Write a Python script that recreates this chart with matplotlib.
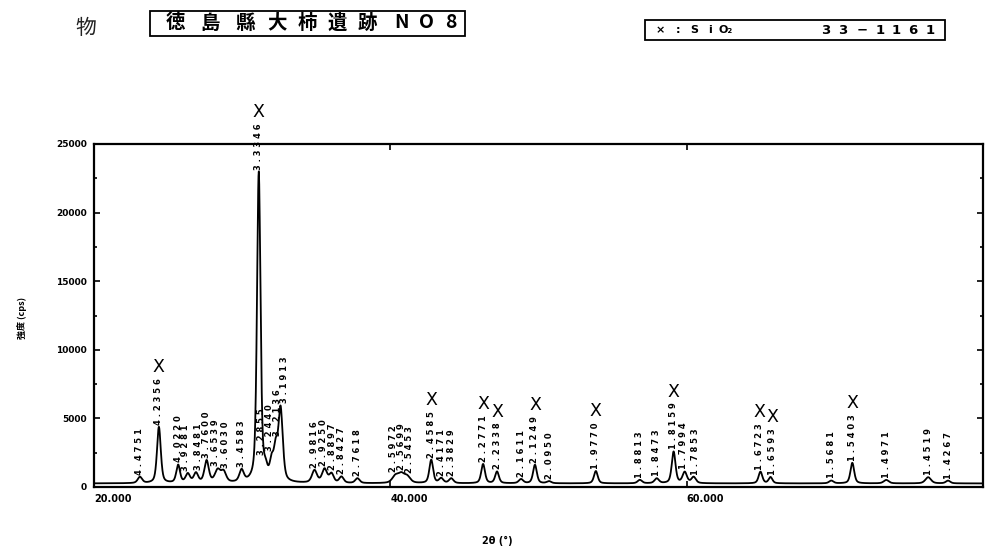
import numpy as np
import matplotlib
matplotlib.use("Agg")
import matplotlib.pyplot as plt
from matplotlib.patches import Rectangle
from matplotlib.ticker import MultipleLocator

plt.rcParams['font.family'] = ['DejaVu Sans', 'Noto Sans CJK JP']

# ---- data ----
peak_pos = [23.10, 24.38, 25.68, 26.33, 26.88, 27.60, 28.35, 28.75, 29.96, 31.12,
            31.58, 31.99, 32.26, 32.59, 34.88, 35.56, 36.03, 36.70, 37.78,
            40.34, 40.74, 41.14, 42.76, 43.43, 44.11, 46.26, 47.20, 48.82,
            49.76, 50.71, 53.87, 56.84, 57.98, 59.12, 59.87, 60.47,
            64.98, 65.66, 69.76, 71.18, 73.47, 76.30, 77.64]
peak_h = [450, 4100, 1300, 650, 700, 1600, 900, 750, 850, 22600,
          700, 1300, 2100, 5300, 900, 1000, 650, 450, 350,
          500, 600, 450, 1700, 350, 350, 1400, 850, 300,
          1350, 150, 900, 250, 350, 2300, 800, 450,
          850, 450, 200, 1500, 250, 450, 200]
peak_w = [0.35, 0.30, 0.30, 0.35, 0.35, 0.35, 0.45, 0.40, 0.35, 0.28,
          0.30, 0.30, 0.30, 0.35, 0.40, 0.40, 0.35, 0.35, 0.35,
          0.50, 0.50, 0.50, 0.30, 0.35, 0.35, 0.30, 0.30, 0.35,
          0.30, 0.35, 0.30, 0.35, 0.35, 0.30, 0.35, 0.35,
          0.30, 0.30, 0.35, 0.30, 0.40, 0.45, 0.35]
peak_labels = ["4.4751", "4.2356", "4.0220", "3.9281", "3.8481", "3.7600", "3.6539", "3.6030",
               "3.4583", "3.3346", "3.2855", "3.2440", "3.2136", "3.1913", "2.9816", "2.9250",
               "2.8897", "2.8427", "2.7618", "2.5972", "2.5699", "2.5453", "2.4585", "2.4171",
               "2.3829", "2.2771", "2.2338", "2.1611", "2.1249", "2.0950", "1.9770", "1.8813",
               "1.8473", "1.8159", "1.7994", "1.7853", "1.6723", "1.6593", "1.5681", "1.5403",
               "1.4971", "1.4519", "1.4267"]
quartz = [0, 1, 0, 0, 0, 0, 0, 0, 0, 1,
          0, 0, 0, 0, 0, 0, 0, 0, 0,
          0, 0, 0, 1, 0, 0, 1, 1, 0,
          1, 0, 1, 0, 0, 1, 0, 0,
          1, 1, 0, 1, 0, 0, 0]
baseline_cps = 260

x_ticks = [20, 40, 60]
x_ticklabels = ["20.000", "40.000", "60.000"]
y_ticks = [0, 5000, 10000, 15000, 20000, 25000]
y_ticklabels = ["0", "5000", "10000", "15000", "20000", "25000"]

title_chars = ["徳", "島", "縣", "大", "柿", "遺", "跡", "N", "O", "8"]
card_left = ["×", ":", "S", "i", "O₂"]
card_right = ["3", "3", "−", "1", "1", "6", "1"]

# ---- style / layout (not data) ----
label_dx = {3: -1.5, 4: 1.5, 6: -1.5, 7: 1.5, 10: -3.0, 11: -1.5, 12: 1.0, 13: 3.0,
            15: -1.0, 16: 1.0, 19: -1.5, 20: 0.0, 21: 1.5, 34: -1.0, 35: 1.0,
            36: -1.0, 37: 1.5}
title_x = [175, 210, 245, 277, 307, 337, 367, 401, 426, 451]
card_left_x = [660, 678, 694, 710, 726]
card_right_x = [826, 843, 862, 880, 896, 913, 930]

fig = plt.figure(figsize=(9.9, 5.54), dpi=100)
ax = fig.add_axes([94/990, 1-487/554, (983-94)/990, (487-144)/554])

tt = np.linspace(20, 80, 6000)
yy = np.full_like(tt, baseline_cps, dtype=float)
for p, h, w in zip(peak_pos, peak_h, peak_w):
    g = (w/2)**2 / ((tt-p)**2 + (w/2)**2)
    gs = np.exp(-4*np.log(2)*((tt-p)/w)**2)
    yy += h * (0.5*g + 0.5*gs)

ax.plot(tt, yy, color='black', lw=1.3)
ax.set_xlim(20, 80)
ax.set_ylim(0, 25000)

for s in ax.spines.values():
    s.set_linewidth(1.6)

ax.set_xticks(x_ticks)
ax.set_xticklabels(x_ticklabels, fontsize=7, fontweight='bold', ha='left')
ax.set_yticks(y_ticks)
ax.set_yticklabels(y_ticklabels, fontsize=6.5, fontweight='bold')
ax.yaxis.set_minor_locator(MultipleLocator(2500))
ax.tick_params(axis='both', which='both', direction='in', top=True, right=True,
               width=1.2)
ax.tick_params(axis='both', which='major', length=4, pad=5)
ax.tick_params(axis='y', which='minor', length=2.5)

for i, (p, lab, q) in enumerate(zip(peak_pos, peak_labels, quartz)):
    ytop = np.interp(p, tt, yy)
    dx = label_dx.get(i, 0.0)
    ax.annotate(" ".join(lab), xy=(p, ytop), xytext=(dx, 1.5), textcoords='offset points',
                rotation=90, ha='center', va='bottom', fontsize=6.0,
                fontweight='bold', color='black')
    if q:
        ax.annotate("X", xy=(p, ytop), xytext=(dx, 36.5), textcoords='offset points',
                    ha='center', va='bottom', fontsize=12.5, color='black')

fig.text(497/990, 1-541/554, "2θ (°)", fontsize=7, fontweight='bold',
         ha='center', va='center')
fig.text(22/990, 1-318/554, "強度 (cps)", fontsize=6.5, fontweight='bold',
         rotation=90, ha='center', va='center',
         family=['Noto Sans CJK JP', 'DejaVu Sans'])

fig.text(86/990, 1-28/554, "物", fontsize=15, ha='center', va='center',
         family=['Noto Sans CJK JP'], color='#222222')
fig.patches.append(Rectangle((150/990, 1-36/554), 315/990, 25/554,
                             transform=fig.transFigure, fill=False,
                             lw=1.3, ec='black'))
for ch, xp in zip(title_chars, title_x):
    fig.text(xp/990, 1-23/554, ch, fontsize=14, fontweight='bold',
             ha='center', va='center', family=['Noto Sans CJK JP', 'DejaVu Sans'])
fig.patches.append(Rectangle((645/990, 1-40/554), 300/990, 20/554,
                             transform=fig.transFigure, fill=False,
                             lw=1.3, ec='black'))
for ch, xp in zip(card_left, card_left_x):
    fig.text(xp/990, 1-30/554, ch, fontsize=8, fontweight='bold',
             ha='center', va='center')
for ch, xp in zip(card_right, card_right_x):
    fig.text(xp/990, 1-30/554, ch, fontsize=9.5, fontweight='bold',
             ha='center', va='center')

fig.savefig("out.png", dpi=100)
